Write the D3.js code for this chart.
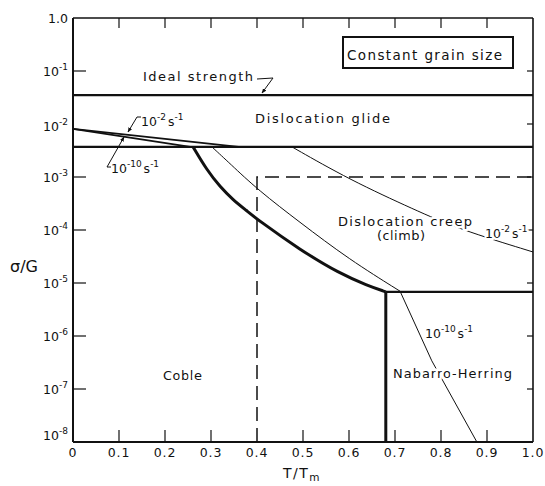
<!DOCTYPE html>
<html><head><meta charset="utf-8">
<script src="https://cdn.jsdelivr.net/npm/d3@7"></script>
<style>
html,body{margin:0;padding:0;background:#fff;}
svg text{font-family:"DejaVu Sans",sans-serif;fill:#111;}
</style></head>
<body>
<svg id="chart" width="545" height="486"></svg>
<script>
// ---- data (T/Tm, sigma/G) ----
const xTickValues = [0,0.1,0.2,0.3,0.4,0.5,0.6,0.7,0.8,0.9,1.0];
const xTickLabels = ["0","0.1","0.2","0.3","0.4","0.5","0.6","0.7","0.8","0.9","1.0"];
const yTickExponents = [0,-1,-2,-3,-4,-5,-6,-7,-8];
const idealStrength = 0.035;
const glideLimit = 0.0037;
const glideRate2 = [[0,0.0081],[0.36,0.0037]];       // 10^-2 s^-1 in glide field
const glideRate10 = [[0,0.0081],[0.255,0.0037]];     // 10^-10 s^-1 in glide field
const cobleBoundary = [[0.261,0.0037],[0.291,1.35e-3],[0.32,6.5e-4],[0.348,3.7e-4],[0.378,2.3e-4],[0.402,1.55e-4],[0.494,4.2e-5],[0.58,1.5e-5],[0.64,9.0e-6],[0.68,6.8e-6]];
const nhStress = 6.8e-6;
const nhTemperature = 0.68;
const creepRate10 = [[0.302,0.0037],[0.341,1.8e-3],[0.402,5.7e-4],[0.493,1.4e-4],[0.60,2.8e-5],[0.711,7.0e-6]];
const nhRate10 = [[0.711,7.0e-6],[0.78,3.4e-7],[0.878,1e-8]];
const creepRate2 = [[0.476,0.0037],[0.602,8.8e-4],[0.743,2.4e-4],[0.837,1.05e-4],[1.0,3.85e-5]];
const dashedBox = [[0.4,1e-8],[0.4,1e-3],[1.0,1e-3]];

const svg = d3.select("#chart");
const x = d3.scaleLinear().domain([0,1]).range([73,533]);
const y = d3.scaleLog().domain([1e-8,1]).range([442,18]);
const L = x(0), R = x(1), T = y(1), B = y(1e-8);

const line = d3.line().x(d=>x(d[0])).y(d=>y(d[1]));
const curve = d3.line().x(d=>x(d[0])).y(d=>y(d[1])).curve(d3.curveBasis);

// frame
svg.append("line").attr("x1",L).attr("x2",R).attr("y1",T).attr("y2",T).attr("stroke","#111").attr("stroke-width",1.5);
svg.append("line").attr("x1",R).attr("x2",R).attr("y1",T).attr("y2",B).attr("stroke","#111").attr("stroke-width",1.6);
svg.append("line").attr("x1",L).attr("x2",L).attr("y1",T).attr("y2",B).attr("stroke","#111").attr("stroke-width",2);
svg.append("line").attr("x1",L).attr("x2",R).attr("y1",B).attr("y2",B).attr("stroke","#111").attr("stroke-width",2);

// ticks (inward)
const tk = svg.append("g").attr("stroke","#111").attr("stroke-width",1.2);
xTickValues.filter(v=>v>0 && v<1).forEach(v=>{
  tk.append("line").attr("x1",x(v)).attr("x2",x(v)).attr("y1",T).attr("y2",T+10);
  if (v!==0.4) tk.append("line").attr("x1",x(v)).attr("x2",x(v)).attr("y1",B).attr("y2",B-12);
});
yTickExponents.filter(e=>e<0 && e>-8).forEach(e=>{
  const yy = y(Math.pow(10,e));
  if (e!==-2) tk.append("line").attr("x1",L).attr("x2",L+13).attr("y1",yy).attr("y2",yy);
  tk.append("line").attr("x1",R).attr("x2",R-6).attr("y1",yy).attr("y2",yy);
});

// x tick labels
const xl = svg.append("g");
xTickValues.forEach((v,i)=>{
  xl.append("text").attr("x",x(v)).attr("y",457).attr("text-anchor","middle")
    .attr("font-size",12.5).attr("letter-spacing",0.8).text(xTickLabels[i]);
});
// y tick labels
yTickExponents.forEach(e=>{
  const yy = y(Math.pow(10,e));
  let base = yy+5;
  if (e===-8) base = yy-2;
  if (e===-2) base = yy+7;
  if (e===0) {
    svg.append("text").attr("x",68).attr("y",base).attr("text-anchor","end").attr("font-size",12.5).text("1.0");
  } else {
    const t = svg.append("text").attr("x",68).attr("y",base).attr("text-anchor","end").attr("font-size",12.5);
    t.append("tspan").text("10");
    t.append("tspan").attr("dy",-6).attr("font-size",9).text(String(e));
  }
});

// axis titles
const yt = svg.append("text").attr("x",10).attr("y",272).attr("font-size",16);
yt.append("tspan").text("σ/G");
const xt = svg.append("text").attr("x",283).attr("y",478).attr("font-size",14).attr("letter-spacing",1.5);
xt.append("tspan").text("T/T");
xt.append("tspan").attr("dy",3).attr("font-size",10.5).text("m");

// dashed region
svg.append("path").attr("d",line(dashedBox)).attr("fill","none").attr("stroke","#111")
  .attr("stroke-width",1.5).attr("stroke-dasharray","14,7");

// horizontal boundaries
svg.append("line").attr("x1",L).attr("x2",R).attr("y1",y(idealStrength)).attr("y2",y(idealStrength)).attr("stroke","#111").attr("stroke-width",2.2);
svg.append("line").attr("x1",L).attr("x2",R).attr("y1",y(glideLimit)).attr("y2",y(glideLimit)).attr("stroke","#111").attr("stroke-width",2.2);
svg.append("line").attr("x1",x(nhTemperature)).attr("x2",R).attr("y1",y(nhStress)).attr("y2",y(nhStress)).attr("stroke","#111").attr("stroke-width",2.4);
svg.append("line").attr("x1",x(nhTemperature)).attr("x2",x(nhTemperature)).attr("y1",y(nhStress)).attr("y2",B).attr("stroke","#111").attr("stroke-width",3);

// glide rate lines
svg.append("path").attr("d",line(glideRate2)).attr("fill","none").attr("stroke","#111").attr("stroke-width",1.6);
svg.append("path").attr("d",line(glideRate10)).attr("fill","none").attr("stroke","#111").attr("stroke-width",1.8);

// Coble boundary (thick)
svg.append("path").attr("d",curve(cobleBoundary)).attr("fill","none").attr("stroke","#111").attr("stroke-width",3);
// strain-rate contours
svg.append("path").attr("d",curve(creepRate10)).attr("fill","none").attr("stroke","#111").attr("stroke-width",1);
svg.append("path").attr("d",line(nhRate10)).attr("fill","none").attr("stroke","#111").attr("stroke-width",1);
svg.append("path").attr("d",curve(creepRate2)).attr("fill","none").attr("stroke","#111").attr("stroke-width",1);

// labels
function label(txt,xx,yy,len,size){
  return svg.append("text").attr("x",xx).attr("y",yy).attr("font-size",size||13)
    .attr("textLength",len).attr("lengthAdjust","spacing")
    .attr("stroke","#fff").attr("stroke-width",5).attr("paint-order","stroke").attr("stroke-linejoin","round")
    .text(txt);
}
function rateLabel(exp,xx,yy){
  const t = svg.append("text").attr("x",xx).attr("y",yy).attr("font-size",12.5)
    .attr("stroke","#fff").attr("stroke-width",4).attr("paint-order","stroke");
  t.append("tspan").text("10");
  t.append("tspan").attr("dy",-6).attr("font-size",9).text(exp);
  t.append("tspan").attr("dy",6).attr("dx",2).text("s");
  t.append("tspan").attr("dy",-6).attr("font-size",9).text("-1");
  return t;
}
label("Ideal strength",143,81,110);
label("Dislocation glide",255,123,135);
label("Dislocation creep",338,226,134);
label("(climb)",377,240,48);
label("Nabarro-Herring",393,378,119);
label("Coble",163,380,39);

// constant grain size box
svg.append("rect").attr("x",343).attr("y",37).attr("width",170).attr("height",31)
  .attr("fill","#fff").attr("stroke","#111").attr("stroke-width",2);
svg.append("text").attr("x",347).attr("y",60).attr("font-size",13.5)
  .attr("textLength",155).attr("lengthAdjust","spacing").text("Constant grain size");

rateLabel("-2",141,126);
rateLabel("-10",111,173);
rateLabel("-2",485,238);
rateLabel("-10",425,338);

// leaders with arrowheads
svg.append("defs").append("marker").attr("id","arr").attr("viewBox","0 0 10 10")
  .attr("refX",9).attr("refY",5).attr("markerWidth",5).attr("markerHeight",5).attr("orient","auto")
  .append("path").attr("d","M0,1 L10,5 L0,9 Z").attr("fill","#111");
const leaders = [
  [[141,117],[137,117],[128,132]],
  [[111,167],[107,167],[124,137]],
  [[257,79],[273,78],[262,93]]
];
leaders.forEach(p=>{
  svg.append("path").attr("d",d3.line()(p)).attr("fill","none").attr("stroke","#111")
    .attr("stroke-width",1).attr("marker-end","url(#arr)");
});
</script>
</body></html>
